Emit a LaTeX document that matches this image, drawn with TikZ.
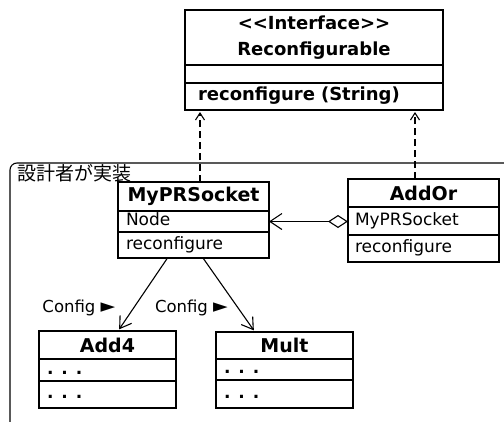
\documentclass[tikz,border=0pt]{standalone}
\usepackage{fontspec}
\setmainfont{DejaVu Sans}
\newfontfamily\jpfont{Noto Sans CJK JP}
\usetikzlibrary{arrows.meta,positioning}

\newcommand{\elide}{\textbf{.\hspace{8pt}.\hspace{8pt}.}}
\newcommand{\navarrow}{{\fontsize{19}{18}\selectfont ►}}

\begin{document}
\begin{tikzpicture}[x=1pt, y=-1pt, line width=1.1pt,
  classname/.style={rectangle, draw, outer sep=0pt, inner sep=0pt, text centered, font=\fontsize{19}{22}\selectfont\bfseries},
  member/.style={rectangle, draw, outer sep=0pt, inner ysep=0pt, inner xsep=8pt, align=left, font=\fontsize{17}{20}\selectfont},
  realize/.style={-{Straight Barb[length=7pt,width=9pt]}, dash pattern=on 7pt off 4pt, shorten >=2pt},
  config/.style={-{Straight Barb[length=11pt,width=14pt]}, shorten >=2pt},
  aggr/.style={{Diamond[open,length=20pt,width=13pt]}-{Straight Barb[length=12pt,width=16pt]}},
  cfglabel/.style={font=\fontsize{16.5}{18}\selectfont, inner sep=0pt}
]
  \clip (0,0) rectangle (504,421);

  % implementation frame
  \draw[rounded corners=7pt] (10,163) rectangle (520,430);
  \node[anchor=west, inner sep=0pt, font=\fontsize{19}{20}\jpfont] (implabel) at (17,173) {設計者が実装};

  % interface
  \node[classname, minimum width=258pt, minimum height=55pt, align=center, font=\fontsize{18}{26}\selectfont\bfseries] (iface) at (314,37.5) {\mbox{<}\mbox{<}Interface\mbox{>}\mbox{>}\\Reconfigurable};
  \node[member, text width=230pt, inner xsep=14pt, minimum height=18pt, below=0pt of iface] (ifaceattr) {};
  \node[member, text width=232pt, inner xsep=13pt, minimum height=27pt, below=0pt of ifaceattr, font=\fontsize{18}{20}\selectfont\bfseries] (ifaceops) {\strut reconfigure (String)};

  % socket
  \node[classname, minimum width=151pt, minimum height=29pt] (sock) at (193.5,196.5) {MyPRSocket};
  \node[member, text width=135pt, minimum height=21pt, below=0pt of sock] (sockattr) {\strut Node};
  \node[member, text width=135pt, minimum height=26pt, below=0pt of sockattr] (sockops) {\strut reconfigure};

  % addor
  \node[classname, minimum width=151pt, minimum height=28pt] (addor) at (423.5,193) {AddOr};
  \node[member, text width=137pt, inner xsep=7pt, minimum height=28pt, below=0pt of addor] (addorattr) {\strut MyPRSocket};
  \node[member, text width=137pt, inner xsep=7pt, minimum height=27pt, below=0pt of addorattr] (addorops) {\strut reconfigure};

  % add4
  \node[classname, minimum width=137pt, minimum height=28pt] (add4) at (107.5,345) {Add4};
  \node[member, text width=121pt, minimum height=22pt, below=0pt of add4] (add4attr) {\strut\elide};
  \node[member, text width=121pt, minimum height=27pt, below=0pt of add4attr] (add4ops) {\strut\elide};

  % mult
  \node[classname, minimum width=137pt, minimum height=27pt] (mult) at (284.5,345.5) {Mult};
  \node[member, text width=121pt, minimum height=21pt, below=0pt of mult] (multattr) {\strut\elide};
  \node[member, text width=121pt, minimum height=28pt, below=0pt of multattr] (multops) {\strut\elide};

  \draw[realize] ([xshift=6.5pt]sock.north) -- ([xshift=6.5pt]sock.north |- ifaceops.south);
  \draw[realize] ([xshift=-8.5pt]addor.north) -- ([xshift=-8.5pt]addor.north |- ifaceops.south);
  \draw[aggr] (addorattr.west |- sockattr.east) -- (sockattr.east);
  \draw[config] ([xshift=-26pt]sockops.south) -- node[cfglabel, pos=0.68, left=18pt] (cfg1) {Config \navarrow} ([xshift=10.5pt]add4.north);
  \draw[config] ([xshift=9.5pt]sockops.south) -- node[cfglabel, pos=0.68, left=10pt] (cfg2) {Config \navarrow} ([xshift=-29.5pt]mult.north);
\end{tikzpicture}
\end{document}
